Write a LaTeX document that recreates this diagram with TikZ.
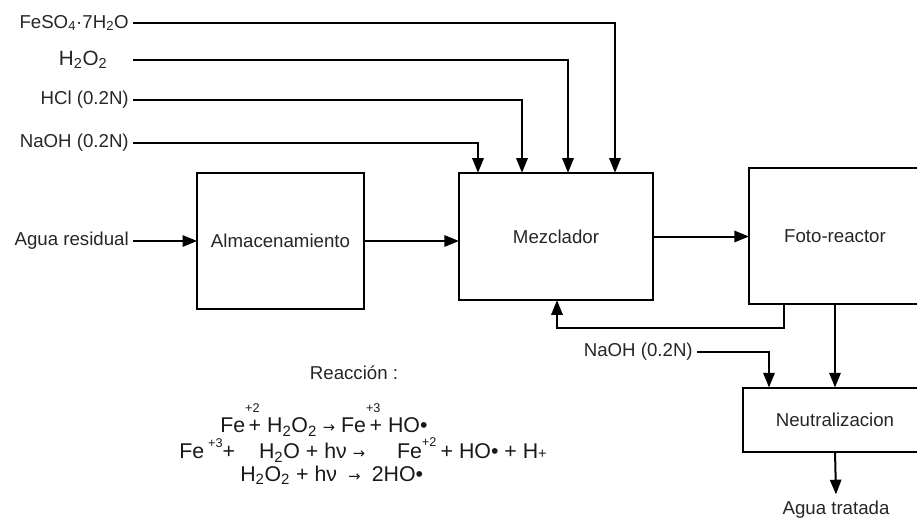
\documentclass[tikz,border=0pt]{standalone}
\usepackage{fontspec}
\setmainfont{Liberation Sans}
\newfontfamily\flechafont{DejaVu Sans}
\usetikzlibrary{arrows.meta}

% reaction helpers
\newcommand{\ra}{{\flechafont\fontsize{11}{12}\selectfont →}}
\newcommand{\carga}[2][0.8em]{\raisebox{#1}{\fontsize{9.5}{10}\selectfont #2}}

\tikzset{
  bloque/.style={draw, line width=1.5pt, inner sep=0pt, outer sep=0pt,
                 font=\fontsize{14}{16}\selectfont, text=black!85},
  etiqueta/.style={inner sep=3pt, font=\fontsize{14}{16}\selectfont, text=black!85},
  reaccion/.style={anchor=west, inner sep=0pt, font=\fontsize{16}{19}\selectfont, text=black!90},
  flecha/.style={line width=1.5pt, -{Triangle[length=11pt,width=8.5pt]}},
}

\begin{document}
\begin{tikzpicture}[x=0.75pt, y=-0.75pt]
    \useasboundingbox (0,0) rectangle (917,518);

    % Blocks
    \node[bloque, minimum width=125pt, minimum height=102pt] (alm) at (280.5,241) {Almacenamiento};
    \node[bloque, minimum width=145.5pt, minimum height=95.5pt] (mez) at (556,236.5) {Mezclador};
    \node[bloque, minimum width=129pt, minimum height=102pt] (foto) at (835,236) {Foto-reactor};
    \node[bloque, minimum width=138pt, minimum height=48pt] (neu) at (835,419.5) {Neutralizacion};

    % Inputs and outputs
    \node[etiqueta, anchor=east] (agua) at (133,241) {Agua residual};
    \node[etiqueta, anchor=east] (feso) at (133,23) {FeSO\textsubscript{4}·7H\textsubscript{2}O};
    \node[etiqueta, anchor=east, inner xsep=19pt, font=\fontsize{15.5}{18}\selectfont] (hdos) at (133,60) {H\textsubscript{2}O\textsubscript{2}};
    \node[etiqueta, anchor=east] (hcl) at (133,100) {HCl (0.2N)};
    \node[etiqueta, anchor=east] (naoh) at (133,143) {NaOH (0.2N)};
    \node[etiqueta, anchor=east] (naohb) at (697,352) {NaOH (0.2N)};
    \node[etiqueta, inner sep=5pt] (tratada) at (836,510) {Agua tratada};

    % Drop points
    \coordinate (c1) at (615,0);
    \coordinate (c2) at (568,0);
    \coordinate (c3) at (522,0);
    \coordinate (c4) at (478,0);
    \coordinate (c5) at (769,0);
    \coordinate (fb) at (784,328);
    \coordinate (fbx) at (557,328);

    % Connectors
    \draw[flecha] (feso.east) -| (c1 |- mez.north);
    \draw[flecha] (hdos.east) -| (c2 |- mez.north);
    \draw[flecha] (hcl.east) -| (c3 |- mez.north);
    \draw[flecha] (naoh.east) -| (c4 |- mez.north);
    \draw[flecha] (agua.east) -- (alm.west);
    \draw[flecha] (alm.east) -- (alm.east -| mez.west);
    \draw[flecha] (mez.east) -- (mez.east -| foto.west);
    \draw[flecha] (fb |- foto.south) -- (fb) -- (fbx) -- (fbx |- mez.south);
    \draw[flecha] (foto.south) -- (neu.north);
    \draw[flecha] (naohb.east) -| (c5 |- neu.north);
    \draw[flecha] (neu.south) -- (tratada.north);

    % Reactions
    \node[etiqueta] (titulo) at (354,373) {Reacción :};
    \node[reaccion] (r1) at (220,420) {Fe\rlap{\carga[0.95em]{+2}}\,+ H\textsubscript{2}O\textsubscript{2} \ra{} Fe\rlap{\carga[0.95em]{+3}}\,+ HO•};
    \node[reaccion] (r2) at (179,450) {Fe\hspace{3pt}\carga[0.5em]{+3}+\hspace{18pt}H\textsubscript{2}O + hν \ra\hspace{24pt}Fe\rlap{\carga[0.55em]{+2}}\hspace{14pt}+ HO• + H{\fontsize{11}{12}\selectfont +}};
    \node[reaccion] (r3) at (240,475) {H\textsubscript{2}O\textsubscript{2} + hν\hspace{4pt} \ra{}\hspace{4pt} 2HO•};
\end{tikzpicture}
\end{document}
